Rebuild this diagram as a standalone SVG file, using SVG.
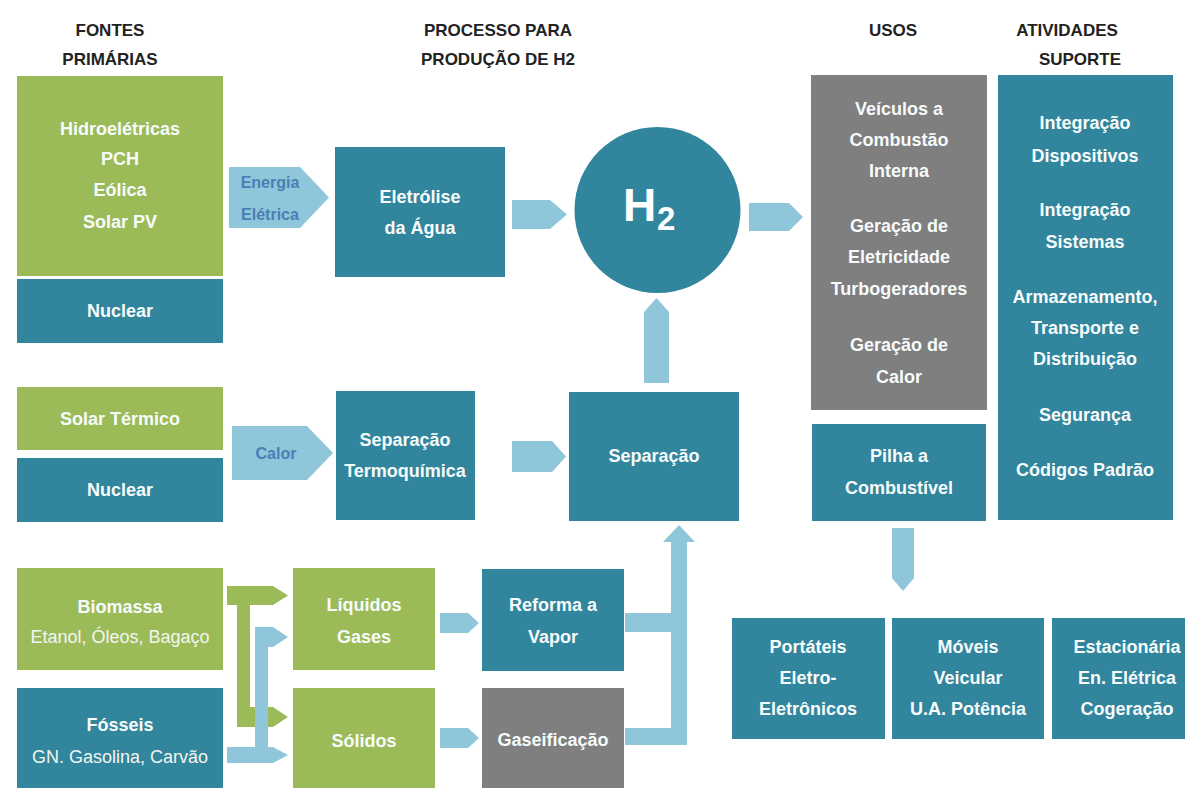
<svg xmlns="http://www.w3.org/2000/svg" width="1185" height="788" viewBox="0 0 1185 788">
<style>
.g{fill:#9bbb59}
.b{fill:#31859c}
.k{fill:#7f7f7f}
.a{fill:#8fc6da}
.t{font-family:"Liberation Sans",Arial,sans-serif;font-weight:bold;font-size:18px;fill:#f7fbfb;text-anchor:middle}
.r{font-family:"Liberation Sans",Arial,sans-serif;font-weight:normal;font-size:18px;fill:#f2f5f0;text-anchor:middle}
.h{font-family:"Liberation Sans",Arial,sans-serif;font-weight:bold;font-size:17px;fill:#222222;text-anchor:middle}
.al{font-family:"Liberation Sans",Arial,sans-serif;font-weight:bold;font-size:16px;fill:#4a7eb5;text-anchor:middle}
</style>
<rect width="1185" height="788" fill="#ffffff"/>

<g id="headers">
<text class="h" x="110" y="36">FONTES</text>
<text class="h" x="110" y="65">PRIMÁRIAS</text>
<text class="h" x="498" y="36">PROCESSO PARA</text>
<text class="h" x="498" y="65">PRODUÇÃO DE H2</text>
<text class="h" x="893" y="36">USOS</text>
<text class="h" x="1067" y="36">ATIVIDADES</text>
<text class="h" x="1080" y="65">SUPORTE</text>
</g>

<g id="connectors">
<polygon class="a" points="229,167 300,167 329,197.5 300,228 229,228"/>
<polygon class="a" points="512,200 550,200 567,214.5 550,229 512,229"/>
<polygon class="a" points="749,203 789,203 803,217 789,231 749,231"/>
<polygon class="a" points="232,426 307,426 333,453 307,480 232,480"/>
<polygon class="a" points="512,441 552,441 566,456.5 552,472 512,472"/>
<polygon class="a" points="644,383 644,312 656.5,298 669,312 669,383"/>
<polygon class="a" points="440,613 468,613 479,623 468,633 440,633"/>
<polygon class="a" points="440,728 468,728 479,738 468,748 440,748"/>
<polygon class="a" points="625,613 671,613 671,542 663,542 679,525 695,542 687,542 687,745 625,745 625,728 671,728 671,632 625,632"/>
<polygon class="a" points="892,528 914,528 914,578 903,591 892,578"/>
<polygon class="g" points="227,586 273,586 288,595.5 273,605 250,605 250,707 273,707 288,717 273,727 237,727 237,605 227,605"/>
<polygon class="a" points="255,627 273,627 288,637 273,647 268,647 268,747 273,747 288,755 273,763 227,763 227,747 255,747"/>
<text class="al" x="270" y="188">Energia</text>
<text class="al" x="270" y="220">Elétrica</text>
<text class="al" x="276" y="459">Calor</text>
</g>

<g id="renovaveis">
<rect class="g" x="17" y="76" width="206" height="200"/>
<text class="t" x="120" y="135">Hidroelétricas</text>
<text class="t" x="120" y="165">PCH</text>
<text class="t" x="120" y="196">Eólica</text>
<text class="t" x="120" y="228">Solar PV</text>
</g>
<g id="nuclear1">
<rect class="b" x="17" y="279" width="206" height="64"/>
<text class="t" x="120" y="317">Nuclear</text>
</g>
<g id="solar-termico">
<rect class="g" x="17" y="387" width="206" height="63"/>
<text class="t" x="120" y="425">Solar Térmico</text>
</g>
<g id="nuclear2">
<rect class="b" x="17" y="458" width="206" height="64"/>
<text class="t" x="120" y="496">Nuclear</text>
</g>
<g id="biomassa">
<rect class="g" x="17" y="568" width="206" height="102"/>
<text class="t" x="120" y="613">Biomassa</text>
<text class="r" x="120" y="643">Etanol, Óleos, Bagaço</text>
</g>
<g id="fosseis">
<rect class="b" x="17" y="688" width="206" height="100"/>
<text class="t" x="120" y="731">Fósseis</text>
<text class="r" x="120" y="763">GN. Gasolina, Carvão</text>
</g>

<g id="eletrolise">
<rect class="b" x="335" y="147" width="170" height="130"/>
<text class="t" x="420" y="203">Eletrólise</text>
<text class="t" x="420" y="234">da Água</text>
</g>
<g id="separacao-termo">
<rect class="b" x="336" y="391" width="139" height="129"/>
<text class="t" x="405" y="446">Separação</text>
<text class="t" x="405" y="477">Termoquímica</text>
</g>
<g id="separacao">
<rect class="b" x="569" y="392" width="170" height="129"/>
<text class="t" x="654" y="462">Separação</text>
</g>
<g id="h2">
<circle class="b" cx="657.5" cy="210" r="83"/>
<text x="623" y="221" font-family="Liberation Sans,Arial,sans-serif" font-weight="bold" font-size="46" fill="#ffffff">H</text>
<text x="657" y="230" font-family="Liberation Sans,Arial,sans-serif" font-weight="bold" font-size="33" fill="#ffffff">2</text>
</g>
<g id="liquidos">
<rect class="g" x="293" y="568" width="142" height="102"/>
<text class="t" x="364" y="611">Líquidos</text>
<text class="t" x="364" y="643">Gases</text>
</g>
<g id="solidos">
<rect class="g" x="293" y="688" width="142" height="100"/>
<text class="t" x="364" y="747">Sólidos</text>
</g>
<g id="reforma">
<rect class="b" x="482" y="569" width="142" height="102"/>
<text class="t" x="553" y="611">Reforma a</text>
<text class="t" x="553" y="643">Vapor</text>
</g>
<g id="gaseificacao">
<rect class="k" x="482" y="688" width="142" height="100"/>
<text class="t" x="553" y="746">Gaseificação</text>
</g>

<g id="usos">
<rect class="k" x="811" y="75" width="176" height="335"/>
<text class="t" x="899" y="115">Veículos a</text>
<text class="t" x="899" y="146">Combustão</text>
<text class="t" x="899" y="177">Interna</text>
<text class="t" x="899" y="232">Geração de</text>
<text class="t" x="899" y="263">Eletricidade</text>
<text class="t" x="899" y="295">Turbogeradores</text>
<text class="t" x="899" y="351">Geração de</text>
<text class="t" x="899" y="383">Calor</text>
</g>
<g id="pilha">
<rect class="b" x="812" y="424" width="174" height="97"/>
<text class="t" x="899" y="462">Pilha a</text>
<text class="t" x="899" y="494">Combustível</text>
</g>
<g id="atividades">
<rect class="b" x="998" y="75" width="175" height="445"/>
<text class="t" x="1085" y="129">Integração</text>
<text class="t" x="1085" y="162">Dispositivos</text>
<text class="t" x="1085" y="216">Integração</text>
<text class="t" x="1085" y="248">Sistemas</text>
<text class="t" x="1085" y="303">Armazenamento,</text>
<text class="t" x="1085" y="334">Transporte e</text>
<text class="t" x="1085" y="365">Distribuição</text>
<text class="t" x="1085" y="421">Segurança</text>
<text class="t" x="1085" y="476">Códigos Padrão</text>
</g>
<g id="portateis">
<rect class="b" x="732" y="618" width="153" height="121"/>
<text class="t" x="808" y="653">Portáteis</text>
<text class="t" x="808" y="684">Eletro-</text>
<text class="t" x="808" y="715">Eletrônicos</text>
</g>
<g id="moveis">
<rect class="b" x="892" y="618" width="152" height="121"/>
<text class="t" x="968" y="653">Móveis</text>
<text class="t" x="968" y="684">Veicular</text>
<text class="t" x="968" y="715">U.A. Potência</text>
</g>
<g id="estacionaria">
<rect class="b" x="1052" y="618" width="152" height="121"/>
<text class="t" x="1127" y="653">Estacionária</text>
<text class="t" x="1127" y="684">En. Elétrica</text>
<text class="t" x="1127" y="715">Cogeração</text>
</g>
</svg>
